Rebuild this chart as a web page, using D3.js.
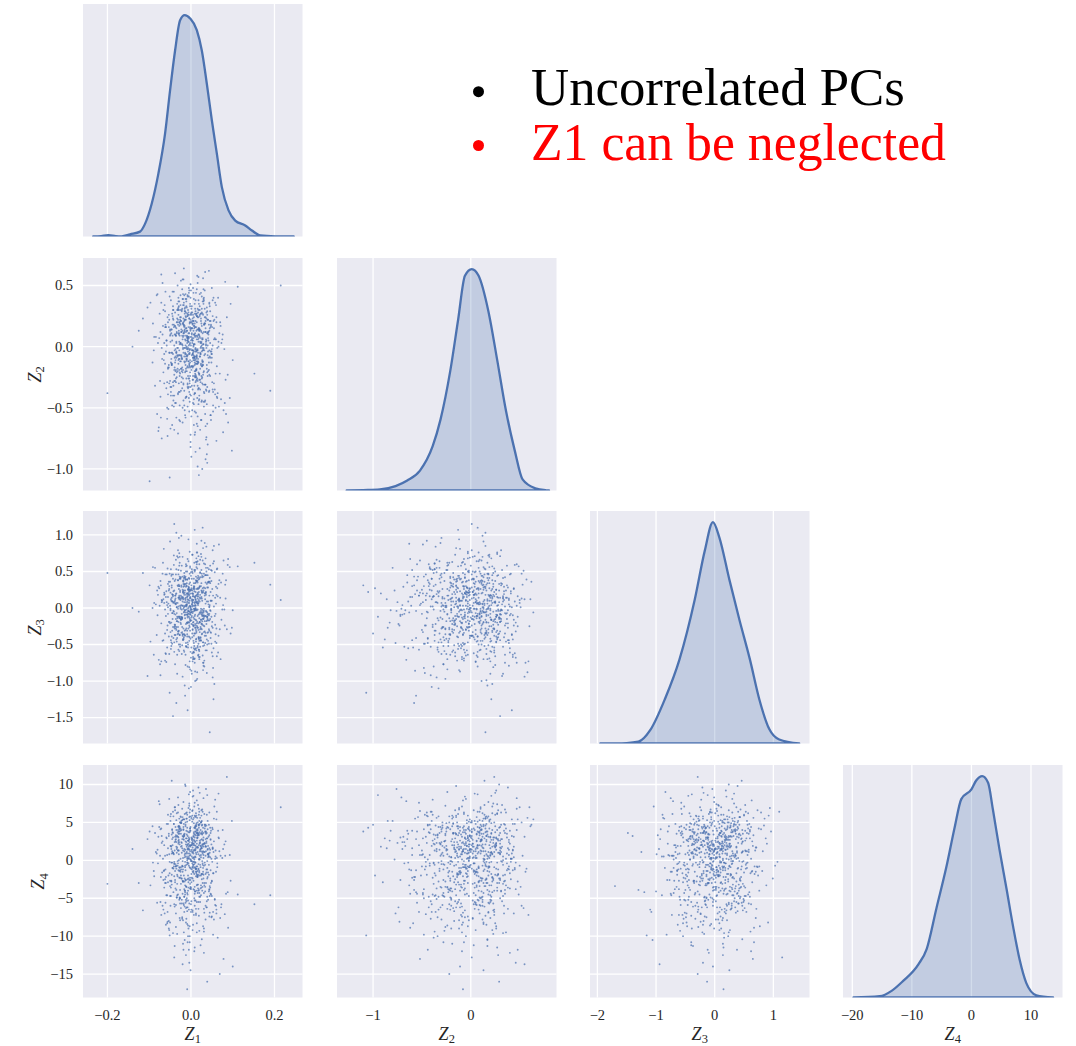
<!DOCTYPE html>
<html>
<head>
<meta charset="utf-8">
<script src="https://cdn.jsdelivr.net/npm/d3@7"></script>
<style>
  body { margin: 0; background: #ffffff; }
  svg { display: block; }
</style>
</head>
<body>
<svg id="chart" width="1076" height="1046"></svg>
<script>
// ---- sample scores of the four principal components (one entry per observation) ----
// Z1 in thousandths, Z2 and Z3 in hundredths, Z4 in tenths
const z1Thousandths = [
-12,34,-58,7,21,-3,-41,66,-19,2,48,-27,-75,13,29,-8,-36,55,-1,17,
-22,41,9,-64,30,-14,5,-47,78,-30,11,-5,25,-88,38,-17,62,-9,-33,15,
3,-26,52,-40,-11,19,84,-55,26,-2,-68,44,-20,8,33,-49,-6,71,-24,12,
-37,18,-4,57,-29,95,-15,40,-60,1,23,-43,10,-18,69,-31,46,-72,6,-10,
28,-53,-7,36,-25,14,-82,50,-13,4,60,-38,20,-1,-45,31,-104,16,-21,43,
-16,73,-34,0,27,-57,9,-28,39,-70,18,-9,54,-42,24,112,-32,5,-50,35,
11,-6,-63,47,-19,32,-2,-80,22,58,-35,7,-12,80,-46,15,-27,42,-4,-97,
37,-23,10,-52,65,-8,25,-39,3,-66,49,-15,19,-30,88,-5,-44,29,-11,61,
-3,45,-74,17,-28,6,-56,34,-20,100,-36,13,-1,52,-61,21,-14,-89,40,-7,
26,-48,2,67,-33,12,-18,44,-77,8,30,-24,59,-9,-43,20,-125,35,-16,4,
-29,14,76,-51,1,38,-13,-67,23,-38,50,-6,16,-84,43,-21,9,63,-31,0,
19,-40,31,-10,93,-59,5,-26,47,-3,-71,27,-17,11,56,-46,24,-8,36,-54,
-15,8,-35,70,-22,18,-92,41,-1,28,-62,13,53,-30,6,-49,32,-12,86,-20,
42,-4,15,-47,24,-79,9,60,-27,35,-11,-56,2,21,-37,75,-18,12,-65,30,
-7,51,-32,4,-115,39,-23,17,64,-42,7,-14,29,-53,46,-2,-69,22,-26,10,
33,-60,14,-19,55,-8,82,-34,3,-45,26,-1,-73,40,-16,18,98,-29,6,-39,
-24,12,48,-70,20,-5,37,-50,16,-13,61,-28,4,-86,31,-10,45,-41,23,152,
7,-33,25,-9,-58,43,-21,10,72,-44,15,-3,34,-64,1,-18,57,-31,9,27,
-48,22,-12,81,-37,5,-25,39,-78,13,50,-16,-2,28,-53,16,-8,66,-35,3,
41,-15,-99,24,8,-43,59,-20,32,-6,-61,11,44,-28,19,-73,36,-4,14,-40,
-11,63,-26,2,29,-52,17,-34,89,-9,21,-66,7,38,-19,-47,26,-1,54,-23,
15,-38,6,-81,47,-14,33,-5,-55,20,77,-30,12,-43,0,42,-17,9,-68,31,
-2,24,-45,58,-27,10,-62,35,-13,4,-36,68,-20,18,-91,27,-7,49,-31,13,
53,-18,8,-49,30,-200,21,-10,44,-57,14,-3,83,-39,25,-22,5,-76,37,-12,
-30,16,215,-26,39,-6,-51,19,1,-35,62,-15,28,-71,11,-46,34,-8,190,-140,
-8,15,-31,4,22,-17,9,-2,36,-24,11,-40,1,27,-13,6,-29,18,-5,43,
-20,3,30,-11,-46,14,-3,25,-34,8,-16,39,-7,19,-27,0,52,-38,12,-1,
21,-14,-4,33,-25,10,-49,17,-9,2,28,-19,45,-32,6,-12,23,-41,13,-6,
-2,37,-22,7,-15,48,-30,1,16,-36,26,-10,4,-55,31,-18,9,-3,41,-26,
14,-33,20,-8,55,-21,-1,29,-44,11,-13,35,-6,18,-28,3,-59,24,-16,8,
-35,5,26,-19,12,-4,40,-50,15,-9,21,-27,0,32,-14,46,-23,7,-38,17,
10,-24,-6,38,-16,24,-43,2,13,-30,6,51,-11,19,-37,28,-5,-21,34,-1,
27,-12,44,-28,3,-57,16,-7,30,-18,9,-33,22,-3,-47,14,39,-15,5,-25,
-10,20,-39,11,-2,33,-23,8,-52,25,-8,15,-31,42,0,-17,12,-44,29,-5,
5,-29,17,-13,49,-36,1,22,-9,-42,37,-20,10,-4,26,-60,18,-11,31,-22,
-17,39,-3,13,-26,6,-48,21,-12,30,-35,2,44,-19,9,-7,35,-28,16,-40,
32,-6,-21,9,47,-31,14,-2,-38,19,-14,27,-9,53,-24,4,-45,11,-16,23,
-1,-37,25,-10,16,-22,7,58,-30,3,-18,36,-5,12,-53,20,-13,31,-8,2,
18,-25,-45,30,-4,10,-33,41,-15,6,24,-50,13,-2,37,-19,8,-28,50,-11,
-29,12,4,-16,28,-41,19,-7,-24,46,1,-12,21,-36,15,-55,33,-3,9,-20,
40,-9,-30,17,-1,35,-47,6,22,-14,-4,29,-23,11,-62,26,-6,14,-34,3,
-15,26,10,-42,34,-5,-19,13,-28,4,61,-35,18,-10,23,-2,-40,7,43,-24,
8,-51,29,-13,2,-26,16,-37,47,-7,12,-20,35,-43,5,-11,24,-31,1,38,
-23,15,-8,52,-32,20,-2,-46,9,27,-17,40,-5,-28,14,-39,4,19,-12,30,
1,-18,36,-27,7,-64,24,-9,16,-3,45,-21,11,-35,28,-7,-48,21,-14,10
];
const z2Hundredths = [
12,-31,5,24,-8,-45,18,0,-19,33,-60,9,27,-14,-3,41,-26,15,-72,6,
-10,22,-38,3,47,-21,-5,14,-52,30,-1,-33,19,8,-88,36,-16,25,-7,-42,
28,-12,1,-28,39,10,-55,20,-4,-24,52,-36,13,-9,31,-67,4,17,-18,44,
-2,-47,23,7,-30,35,-13,-80,16,26,-6,-40,11,55,-22,-1,29,-58,21,-11,
37,-15,-34,2,18,-63,42,-9,25,-27,6,60,-43,14,-5,-20,32,-98,9,-37,
16,3,-25,46,-12,-50,27,-3,11,-75,38,-17,21,-32,0,49,-8,-46,13,24,
-29,8,34,-56,19,-7,-21,43,4,-39,15,-64,28,-2,-14,58,-48,10,-26,36,
5,-18,-70,22,40,-33,12,-9,-52,30,-4,17,-105,26,-23,7,45,-15,-41,20,
-6,33,-28,14,-60,1,24,-44,39,-11,9,-19,51,-35,18,-83,29,-3,11,-24,
41,-13,6,-49,23,-2,-31,35,-66,15,2,54,-22,-8,30,-40,13,-92,21,-16,
-37,25,10,-5,-57,32,-20,17,3,-46,48,-12,-28,8,62,-34,19,-1,-71,27,
14,-23,38,-10,-42,5,26,-61,16,-3,36,-30,9,-86,22,-15,44,-7,1,-51,
31,-39,-4,20,-25,57,-13,12,-78,7,29,-18,-48,40,0,-33,18,-6,24,-62,
-9,46,-26,11,-14,3,-53,34,-37,21,-1,-73,15,43,-20,6,-44,27,-11,37,
8,-29,50,-17,23,-95,12,-5,-38,30,17,-56,2,26,-24,35,-10,-68,19,-2,
-45,16,-8,39,-30,7,53,-21,-3,-64,28,13,-41,22,-12,4,-85,33,-16,10,
24,-54,18,-1,-27,44,-36,9,31,-15,-77,20,5,-32,40,-7,15,-49,27,-22,
-4,35,-60,13,1,-19,47,-11,-43,25,8,-28,61,-6,-90,18,-35,30,-13,6,
38,-8,22,-46,10,-24,3,29,-69,16,-2,42,-39,11,-17,52,-30,4,-58,21,
-20,14,-110,27,-9,33,-50,6,19,-26,45,-14,-3,37,-44,12,-76,23,-7,1,
15,-42,30,-16,56,-5,-35,20,-62,9,26,-21,2,-47,34,-10,17,-82,40,-29,
-12,28,7,-55,21,-1,-31,48,-18,13,-70,32,-8,23,-40,5,64,-24,10,-37,
26,-15,-48,36,2,-22,16,-65,43,-6,-29,11,55,-34,19,-100,8,-13,31,-4,
-53,20,-11,4,39,-38,25,-20,13,-59,47,-2,-27,17,-45,30,-9,7,-74,24,
11,-32,50,-7,-21,28,-107,35,-16,3,-41,22,-3,59,-25,14,-6,42,-36,0,
5,-14,22,-3,-27,11,-8,16,-35,2,29,-19,8,-1,-42,13,-10,24,-6,18,
-21,7,-2,33,-15,20,-30,4,12,-9,-48,26,-4,15,-24,1,38,-13,9,-17,
14,-6,-37,19,3,-25,10,-12,27,-32,6,-1,21,-18,44,-8,-29,16,-3,11,
-11,28,-20,2,-52,17,-7,31,-14,9,-26,0,23,-39,12,-5,35,-16,7,-22,
25,-1,13,-31,6,-10,40,-23,18,-4,-58,15,-12,30,-19,3,-34,21,-8,10,
-5,19,-44,8,26,-15,1,-28,14,-2,33,-21,5,-38,22,-9,12,-47,17,-13,
31,-12,4,-18,-36,23,-6,10,-25,37,-3,16,-41,7,-11,27,-17,2,-55,20,
-16,9,36,-7,15,-29,24,-1,-45,11,-20,30,-5,19,-33,6,-63,13,-9,42,
8,-23,-3,21,-13,46,-8,17,-30,3,-16,25,-39,12,-2,34,-24,9,-12,1,
-27,13,-10,39,-6,-19,28,-35,5,22,-1,-50,16,-14,31,-4,10,-26,18,-9,
17,-33,2,-12,24,-7,-40,14,-18,35,-5,11,-23,43,-15,6,-31,20,-2,-68,
-3,26,-17,9,-56,18,-9,3,-28,15,32,-11,7,-37,21,-6,27,-20,12,-1,
22,-8,-24,13,-3,29,-43,6,-14,19,-30,4,41,-10,16,-22,1,-49,25,-7,
-13,34,5,-21,11,-38,20,-4,27,-11,-60,14,-19,8,23,-2,-32,17,-6,37,
10,-28,18,-1,-15,45,-22,7,-36,3,15,-12,30,-46,9,-17,24,-5,-72,19,
-24,3,-11,28,-33,12,-5,21,-18,6,-53,26,-7,38,-14,1,16,-27,11,-3,
29,-16,8,-44,19,-2,-26,13,4,-35,24,-9,-21,32,-6,15,-40,10,-13,21,
-8,41,-31,5,-12,22,-65,16,-4,30,-19,1,12,-29,48,-10,7,-38,20,-15,
14,-3,-49,25,-20,9,33,-14,2,-25,18,-7,-42,11,27,-17,5,-34,15,-1,
-19,23,6,-10,39,-30,13,-2,-57,20,-8,31,-23,4,-13,26,-37,8,-5,16
];
const z3Hundredths = [
-22,45,8,-61,30,-5,72,-38,14,-90,52,-14,3,37,-47,20,-28,85,-9,26,
58,-33,-2,18,-75,41,11,-52,65,-19,0,-110,34,7,-43,24,-66,50,-12,16,
-40,13,79,-26,5,-57,38,-8,21,-84,47,-31,9,62,-18,-3,29,-70,42,-24,
17,-49,33,-11,96,-35,2,55,-63,25,-6,40,-100,12,-29,69,-15,31,-45,4,
-7,36,-54,22,-20,88,-37,10,-78,48,6,-25,60,-42,19,-1,-93,27,-13,53,
32,-16,1,-68,44,-30,15,75,-50,8,-21,39,-125,23,-4,57,-36,11,91,-58,
-27,64,19,-41,3,-72,35,-10,49,-23,103,-55,14,-2,28,-88,43,-17,7,-46,
50,-34,-9,26,-61,16,70,-28,4,-44,37,-106,22,-12,59,-39,9,82,-53,18,
-14,41,-77,6,30,-24,54,-48,13,-3,66,-32,1,-95,46,-20,24,-64,35,-8,
23,-56,10,87,-18,38,-43,2,-71,29,-11,51,-36,15,-148,40,-5,20,-60,73,
-31,8,47,-19,-86,33,-6,62,-40,17,-25,94,-52,5,36,-14,-69,27,-1,44,
11,-47,28,-9,56,-74,19,3,-33,77,-21,42,-58,12,-104,31,-16,67,-38,6,
-3,52,-26,14,-63,39,0,-45,24,110,-35,9,-82,46,-13,21,-51,60,-29,15,
35,-20,-97,44,-8,18,-57,29,-37,68,4,-24,53,-67,13,-2,38,-43,81,-15,
-50,26,7,-30,48,-12,99,-65,16,-4,34,-120,22,-39,58,-7,10,-53,41,-22,
20,-11,63,-44,2,-80,32,-18,50,9,-36,25,-92,45,-5,71,-27,14,-61,37,
-16,43,-34,11,-59,27,84,-21,-2,39,-48,17,-73,55,-10,30,-170,8,-41,62,
28,-64,15,-6,46,-29,3,-87,35,-15,76,-40,12,21,-54,-1,49,-32,107,-11,
-44,18,57,-24,6,-70,40,-13,29,-99,51,-36,2,65,-19,13,-47,33,-130,24,
9,-37,31,74,-52,16,-8,43,-25,1,-62,22,-17,58,-42,37,-4,-81,26,115,
-28,54,-14,5,-75,30,19,-46,67,-9,-33,12,40,-89,23,-20,47,-3,-55,15,
41,-23,-60,24,10,-38,89,-12,33,-70,4,52,-30,18,-108,36,-6,26,-45,61,
-9,30,-49,14,70,-27,-2,45,-64,20,-15,38,-94,7,56,-35,25,-12,79,-58,
17,-42,23,-1,-79,48,-19,34,1,-54,60,-26,13,-37,92,-8,-67,27,-22,8,
-35,64,11,-50,28,-4,-116,42,-17,7,53,-31,21,-73,3,46,-11,-140,32,0,
12,-25,38,-7,-44,20,3,-31,55,-15,8,-60,27,-2,33,-19,-50,16,41,-10,
-36,6,24,-53,14,-3,47,-22,1,-70,30,-12,18,-40,62,-6,-27,11,35,-17,
29,-9,-45,17,-1,52,-33,9,-20,40,-65,22,4,-14,26,-48,13,-5,68,-28,
-18,45,-2,-38,21,10,-57,31,-11,5,-29,58,-23,15,-4,36,-75,19,-8,24,
7,-41,28,-13,64,-26,2,-52,18,-1,43,-34,11,-9,30,-62,23,-16,48,-4,
-30,16,-6,37,-46,25,-15,3,54,-21,9,-37,20,-80,13,-3,31,-24,6,44,
34,-12,19,-58,8,-28,46,-5,-42,14,27,-19,2,-67,39,-10,22,-33,60,-1,
-23,50,-8,15,-35,4,-54,26,-14,33,-3,71,-29,10,-47,18,-6,42,-20,1,
20,-45,9,-16,57,-32,13,-1,-63,24,-11,37,-26,5,49,-40,17,-7,-85,28,
-5,32,-27,11,-49,19,-2,66,-36,7,-18,25,-56,40,-9,15,-30,3,47,-13,
41,-17,3,-34,22,-69,12,-6,29,-24,53,-11,17,-43,6,-1,35,-59,21,-8,
-12,25,-51,8,-4,38,-21,14,-77,27,-3,10,-39,61,-16,20,-31,4,44,-26,
15,-37,52,-20,6,-13,30,-46,2,73,-28,18,-8,-55,24,-14,39,-33,9,-2,
-40,11,-7,43,-24,16,-90,28,-10,3,-44,36,-17,55,-5,21,-35,12,-61,31,
26,-2,-29,18,-15,59,-42,7,-22,34,-6,-52,14,46,-19,1,-38,23,-11,70,
-9,39,-32,4,-60,21,10,-25,48,-14,17,-47,29,-3,-72,13,-20,37,-7,2,
33,-21,14,-41,27,-5,-36,56,-12,8,-28,20,-64,5,42,-16,24,-1,-49,17,
-15,47,-4,-30,12,-53,35,-9,22,-19,63,-38,6,-26,16,-2,-45,30,-13,9,
4,-27,20,-66,31,-8,13,-39,50,-18,1,-34,25,-12,76,-23,8,-57,18,-6,
-22,29,-11,40,-48,7,-1,-31,19,-73,36,-15,11,-43,27,-4,53,-19,3,-35
];
const z4Tenths = [
21,-35,48,-72,12,63,-8,30,-110,5,39,-49,74,-17,26,2,-88,55,-26,17,
-57,8,34,-13,82,-40,22,-3,-130,44,14,-65,51,-21,29,-95,3,60,-31,36,
10,-79,41,-5,24,68,-44,16,-18,90,-60,33,-1,-120,47,19,-36,6,57,-70,
27,-12,75,-52,38,-27,4,52,-85,20,-9,64,-41,31,-150,13,43,-22,85,-62,
-4,35,-100,18,58,-33,9,-74,45,25,-15,70,-48,1,40,-90,28,-20,53,-6,
32,-58,15,-38,67,7,-115,42,-24,23,96,-67,11,-11,50,-45,37,-2,-82,19,
46,-29,-70,28,3,61,-37,14,-55,80,-7,35,-125,21,-19,56,-50,9,72,-33,
-16,49,24,-92,39,-3,17,-61,65,-26,2,-105,43,30,-42,87,-10,12,-77,54,
37,-47,6,73,-23,20,-68,47,-8,-140,33,59,-35,15,-56,26,100,-14,41,-86,
-25,61,-12,29,-97,10,44,-39,78,-5,22,-63,5,-170,36,52,-30,18,-48,66,
13,-83,40,-17,55,-54,25,2,-112,31,-28,69,-43,11,47,-75,20,-9,83,-36,
60,-21,-64,34,7,-46,92,-13,27,-87,42,-1,-59,16,71,-32,4,-108,38,-20,
-40,26,53,-76,19,-11,45,-52,1,64,-30,36,-98,22,-6,58,-69,29,110,-44,
8,-135,33,-27,50,-4,76,-60,21,-18,39,-81,12,48,-37,3,-118,62,-14,30,
-53,43,-7,17,-66,86,-24,35,-102,9,56,-42,27,-90,14,67,-16,24,-57,44,
23,-30,79,-12,-78,38,6,-49,59,-3,28,-145,41,-22,15,-64,52,0,-38,70,
-9,57,-45,32,-93,18,46,-27,11,98,-70,24,-15,36,-122,63,-34,8,40,-58,
49,-19,16,-84,29,-41,68,5,-62,37,-8,-108,45,20,-29,77,-51,13,-2,34,
-36,14,62,-71,25,-10,42,-160,31,8,-47,54,-23,19,-80,50,-5,88,-39,27,
4,-61,38,-20,71,-96,13,57,-33,26,-12,45,-74,35,1,-55,94,-26,22,-128,
55,-4,-50,29,-15,81,-37,10,-89,43,23,-65,3,60,-28,18,-104,39,-17,50,
-32,66,9,-56,36,-7,22,-118,48,-43,15,73,-21,30,-68,6,54,-35,25,-94,
19,-46,41,2,-76,58,-25,28,-13,84,-59,12,-137,34,-3,47,-40,21,63,-11,
-68,31,-18,52,7,-31,89,-50,16,-83,40,-9,25,-113,59,-24,11,44,-62,5,
35,-14,70,-39,-1,26,-99,47,-54,18,64,-28,9,-72,42,105,-6,32,-46,15,
15,-22,40,3,-48,27,-9,58,12,-31,33,-2,-65,21,47,-14,8,-40,30,5,
-27,51,18,-6,34,-55,24,-18,62,1,-38,29,9,-73,44,-11,16,-29,38,20,
6,-45,28,42,-15,13,-60,36,-3,23,-35,54,10,-21,31,-82,19,48,-8,26,
39,-12,-52,22,7,-30,45,-1,17,-70,35,11,-24,60,-7,28,-44,14,-16,50,
-19,32,2,-62,25,16,-37,43,-10,19,-26,37,-90,8,55,-4,30,-33,12,-50,
24,-8,46,-28,-11,57,14,-47,29,0,-20,41,-58,22,9,-36,52,4,-14,33,
-41,18,-4,36,-68,27,10,-23,49,-13,32,-2,-54,20,44,-30,15,-77,38,7,
11,-34,63,-9,21,-46,30,5,-19,40,-60,17,-6,53,-28,26,-12,35,-85,2,
29,-16,13,-53,42,-3,24,-39,8,66,-25,18,-45,31,-1,48,-64,20,-10,37,
-6,45,-32,14,-75,28,-18,56,3,-42,25,-8,38,-57,16,-22,47,-35,11,23,
34,-48,9,-15,50,-27,19,1,-63,36,-11,27,-38,13,59,-20,6,-52,41,-4,
-30,22,-7,43,-13,31,-95,12,-26,46,-2,-40,20,-17,35,-66,28,4,-48,15,
18,-5,-36,55,-21,10,37,-59,24,-9,41,-30,2,-72,32,-14,50,-43,21,-1,
-55,39,12,-24,28,-3,-46,19,61,-16,7,-34,45,-10,23,-79,14,38,-27,9,
27,-12,-68,33,-6,48,-39,16,-20,4,57,-52,22,-8,36,-29,11,-100,30,-15,
8,-43,26,-19,44,-60,15,-2,35,-33,20,-87,40,-11,6,52,-24,17,-49,29,
-24,36,-10,58,-41,3,-28,47,-14,23,-65,31,-5,18,-37,42,-58,13,-19,49,
43,-2,21,-56,14,-23,39,-8,-44,26,-15,32,-78,10,54,-35,19,-4,30,-62,
-12,30,-45,17,-1,64,-31,9,-53,38,-20,15,-7,45,-40,24,-92,33,-26,3,
20,-57,35,-10,27,-36,12,51,-22,6,-69,28,-3,40,-18,14,-47,37,-9,25
];

// ---- kernel density curves: [value, density relative to the peak] ----
const kdeZ1 = [[-0.234,0],[-0.215,0.002],[-0.198,0.006],[-0.18,0.002],[-0.166,0.001],[-0.146,0.01],
  [-0.122,0.022],[-0.110,0.057],[-0.094,0.148],[-0.078,0.284],[-0.062,0.465],[-0.050,0.66],
  [-0.038,0.84],[-0.026,0.977],[-0.015,1.0],[-0.002,0.985],[0.014,0.932],[0.026,0.84],
  [0.038,0.69],[0.050,0.525],[0.062,0.374],[0.074,0.223],[0.090,0.118],[0.106,0.072],
  [0.130,0.05],[0.146,0.027],[0.166,0.005],[0.202,0.001],[0.246,0]];
const kdeZ2 = [[-1.27,0],[-1.1,0.002],[-0.93,0.005],[-0.77,0.02],[-0.65,0.045],[-0.52,0.09],
  [-0.39,0.2],[-0.31,0.32],[-0.21,0.54],[-0.13,0.77],[-0.06,0.97],[0.01,1.0],[0.08,0.97],
  [0.18,0.81],[0.27,0.59],[0.36,0.36],[0.45,0.18],[0.53,0.05],[0.66,0.01],[0.77,0.001],[0.8,0]];
const kdeZ3 = [[-1.95,0],[-1.5,0.002],[-1.3,0.008],[-1.1,0.06],[-0.85,0.2],[-0.6,0.38],
  [-0.34,0.65],[-0.17,0.87],[-0.03,1.0],[0.08,0.93],[0.25,0.74],[0.42,0.56],[0.6,0.38],
  [0.76,0.2],[0.93,0.065],[1.1,0.018],[1.44,0]];
const kdeZ4 = [[-19.8,0],[-15.4,0.006],[-13.4,0.03],[-11.5,0.074],[-8.9,0.15],[-7.5,0.22],
  [-5.9,0.4],[-4.2,0.59],[-2.8,0.77],[-1.7,0.896],[0,0.94],[0.8,0.98],[1.8,1.0],[2.8,0.97],
  [3.6,0.85],[4.7,0.67],[5.9,0.49],[7.0,0.32],[8.1,0.17],[9.2,0.066],[10.9,0.01],[13.7,0]];

// ---- axis ticks ----
const ticksZ1 = [-0.2, 0.0, 0.2];
const ticksZ2 = [-1.0, -0.5, 0.0, 0.5];
const ticksZ2Bottom = [-1, 0];
const ticksZ3 = [-1.5, -1.0, -0.5, 0.0, 0.5, 1.0];
const ticksZ3Bottom = [-2, -1, 0, 1];
const ticksZ4 = [-15, -10, -5, 0, 5, 10];
const ticksZ4Bottom = [-20, -10, 0, 10];

const axisNames = ["1", "2", "3", "4"];
const headline = ["Uncorrelated PCs", "Z1 can be neglected"];
const headlineColors = ["#000000", "#ff0000"];

// ---------------------------------------------------------------
const values = [
  z1Thousandths.map(v => v / 1000),
  z2Hundredths.map(v => v / 100),
  z3Hundredths.map(v => v / 100),
  z4Tenths.map(v => v / 10)
];
const kdes = [kdeZ1, kdeZ2, kdeZ3, kdeZ4];
const colTicks = [ticksZ1, ticksZ2Bottom, ticksZ3Bottom, ticksZ4Bottom];
const rowTicks = [null, ticksZ2, ticksZ3, ticksZ4];
const colFormat = [d3.format(".1f"), d3.format("d"), d3.format("d"), d3.format("d")];
const rowFormat = [null, d3.format(".1f"), d3.format(".1f"), d3.format("d")];

// layout
const colLeft = [83, 337, 590, 843];
const rowTop = [4, 258, 511, 765];
const panelW = 219.5, panelH = 232.5;
const xLims = [[-0.2585, 0.2671], [-1.369, 0.877], [-2.126, 1.616], [-21.56, 15.29]];
const yLims = [null, [-1.176, 0.725], [-1.855, 1.328], [-18.09, 12.57]];

const BLUE = "#4c72b0", PANEL_BG = "#eaeaf2", TXT = "#262626";
const serif = "'Liberation Serif', 'Times New Roman', serif";
const fmtMinus = s => s.replace("-", "\u2212");

const svg = d3.select("#chart");
const defs = svg.append("defs");

const xScales = xLims.map((d, c) => d3.scaleLinear().domain(d).range([colLeft[c], colLeft[c] + panelW]));
const yScales = yLims.map((d, r) => d ? d3.scaleLinear().domain(d).range([rowTop[r] + panelH, rowTop[r]]) : null);

function panel(r, c) {
  const g = svg.append("g");
  const id = `clip-${r}-${c}`;
  defs.append("clipPath").attr("id", id).append("rect")
    .attr("x", colLeft[c]).attr("y", rowTop[r]).attr("width", panelW).attr("height", panelH);
  g.append("rect").attr("x", colLeft[c]).attr("y", rowTop[r])
    .attr("width", panelW).attr("height", panelH).attr("fill", PANEL_BG);
  const grid = g.append("g").attr("stroke", "#ffffff").attr("stroke-width", 1.3);
  colTicks[c].forEach(t => {
    const x = xScales[c](t);
    grid.append("line").attr("x1", x).attr("x2", x).attr("y1", rowTop[r]).attr("y2", rowTop[r] + panelH);
  });
  if (r !== c) {
    rowTicks[r].forEach(t => {
      const y = yScales[r](t);
      grid.append("line").attr("x1", colLeft[c]).attr("x2", colLeft[c] + panelW).attr("y1", y).attr("y2", y);
    });
  }
  return g.append("g").attr("clip-path", `url(#${id})`);
}

// diagonal density panels
for (let i = 0; i < 4; i++) {
  const body = panel(i, i);
  const x = xScales[i];
  const y = d3.scaleLinear().domain([0, 1.05]).range([rowTop[i] + panelH, rowTop[i]]);
  const area = d3.area()
    .x(d => x(d[0])).y0(y(0)).y1(d => y(d[1]))
    .curve(d3.curveMonotoneX);
  body.append("path").datum(kdes[i])
    .attr("d", area)
    .attr("fill", BLUE).attr("fill-opacity", 0.25)
    .attr("stroke", BLUE).attr("stroke-width", 2.3).attr("stroke-linejoin", "round");
}

// lower-triangle scatter panels
for (let r = 1; r < 4; r++) {
  for (let c = 0; c < r; c++) {
    const body = panel(r, c);
    const pts = d3.range(values[0].length).map(k => [values[c][k], values[r][k]]);
    body.selectAll("circle").data(pts).join("circle")
      .attr("cx", d => xScales[c](d[0]))
      .attr("cy", d => yScales[r](d[1]))
      .attr("r", 0.95)
      .attr("fill", BLUE).attr("fill-opacity", 0.72);
  }
}

// bottom tick labels
for (let c = 0; c < 4; c++) {
  colTicks[c].forEach(t => {
    svg.append("text")
      .attr("x", xScales[c](t)).attr("y", 1020)
      .attr("text-anchor", "middle")
      .attr("font-family", serif).attr("font-size", 14.5).attr("fill", TXT)
      .text(fmtMinus(colFormat[c](t)));
  });
}

// left tick labels and rotated axis titles
for (let r = 1; r < 4; r++) {
  let minLeft = Infinity;
  rowTicks[r].forEach(t => {
    const tx = svg.append("text")
      .attr("x", colLeft[0] - 10).attr("y", yScales[r](t))
      .attr("dy", "0.34em")
      .attr("text-anchor", "end")
      .attr("font-family", serif).attr("font-size", 14.5).attr("fill", TXT)
      .text(fmtMinus(rowFormat[r](t)));
    minLeft = Math.min(minLeft, tx.node().getBBox().x);
  });
  const cy = rowTop[r] + panelH / 2;
  const lx = minLeft - 6;
  const lab = svg.append("text")
    .attr("transform", `translate(${lx},${cy}) rotate(-90)`)
    .attr("text-anchor", "middle")
    .attr("font-family", serif).attr("font-size", 18).attr("fill", TXT);
  lab.append("tspan").attr("font-style", "italic").text("Z");
  lab.append("tspan").attr("font-size", 12.5).attr("dy", 3.5).text(axisNames[r]);
}

// bottom axis titles
for (let c = 0; c < 4; c++) {
  const lab = svg.append("text")
    .attr("x", colLeft[c] + panelW / 2).attr("y", 1039.5)
    .attr("text-anchor", "middle")
    .attr("font-family", serif).attr("font-size", 18).attr("fill", TXT);
  lab.append("tspan").attr("font-style", "italic").text("Z");
  lab.append("tspan").attr("font-size", 12.5).attr("dy", 3.5).text(axisNames[c]);
}

// bullet annotation in the empty upper-right corner
const bulletY = [91.7, 145.5];
const lineBase = [105, 160];
const lineWidth = [374, 415];
headline.forEach((txt, i) => {
  svg.append("circle").attr("cx", 478.5).attr("cy", bulletY[i]).attr("r", 5.5)
    .attr("fill", headlineColors[i]);
  const t = svg.append("text")
    .attr("x", 531).attr("y", lineBase[i])
    .attr("font-family", serif).attr("font-size", 48)
    .attr("fill", headlineColors[i]).text(txt);
  const w = t.node().getComputedTextLength();
  t.attr("font-size", 48 * lineWidth[i] / w);
});
</script>
</body>
</html>
